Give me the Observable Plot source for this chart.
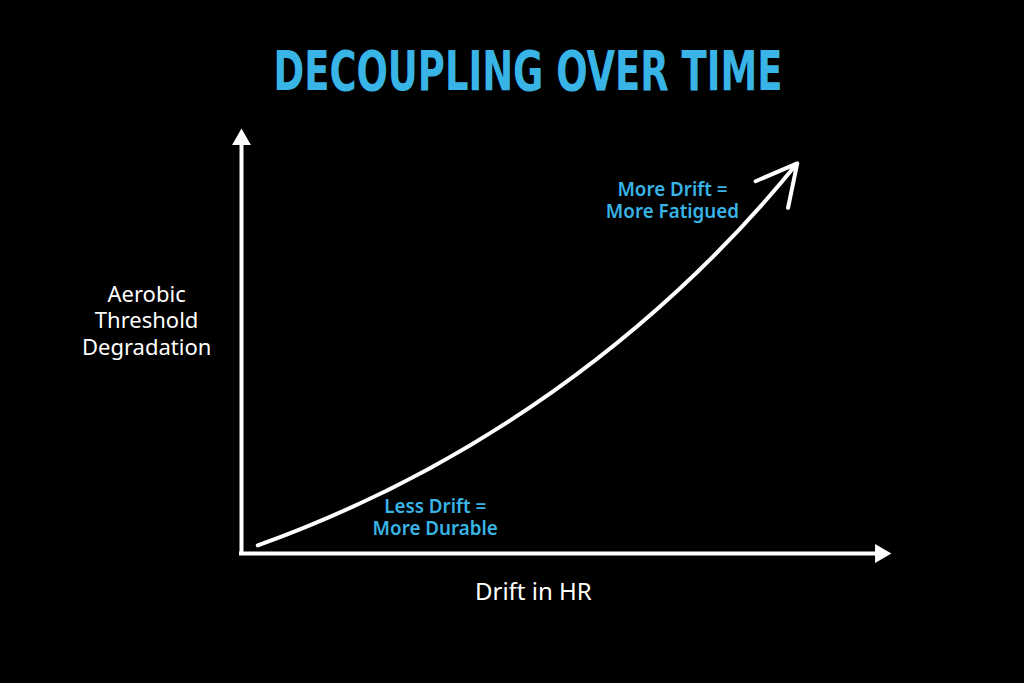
<!DOCTYPE html>
<html>
<head>
<meta charset="utf-8">
<script src="https://cdn.jsdelivr.net/npm/d3@7"></script>
<script src="https://cdn.jsdelivr.net/npm/@observablehq/plot@0.6"></script>
<style>
  html, body { margin: 0; padding: 0; background: #000; }
  #wrap { width: 1024px; height: 683px; overflow: hidden; background: #000; }
  #title {
    height: 115px; margin: 0; text-align: center; position: relative;
  }
  #title span {
    position: absolute; left: 528px; top: 71px;
    font-family: "DejaVu Sans Condensed", "DejaVu Sans", sans-serif;
    font-stretch: condensed;
    font-weight: bold; font-size: 56px; color: #38b4e6;
    line-height: 1; white-space: nowrap; transform-origin: 0 0;
  }
  #chart svg { display: block; }
</style>
</head>
<body>
<div id="wrap">
  <div id="title"><span id="t">DECOUPLING OVER TIME</span></div>
  <div id="chart"></div>
</div>
<script>
// Axis extents (abstract units 0–100)
const axisX = [{x1: 0, x2: 97.5, y: 0}];
const axisY = [{y1: 0, y2: 97, x: 0}];
const axisTipX = [{x: 100, y: 0}];
const axisTipY = [{x: 0, y: 100}];

// Curve: start and end of the bent arrow
const curveStart = [2.5, 1.9];
const curveEnd = [85.5, 91.8];

// Labels
const annoText = ["Less Drift =\nMore Durable", "More Drift =\nMore Fatigued"];
const annoX = [29.8, 66.3];
const annoY = [8.7, 83.3];
const yLabelText = ["Aerobic\nThreshold\nDegradation"];
const yLabelX = [-14.6];
const yLabelY = [55.0];
const xLabelText = ["Drift in HR"];
const xLabelX = [44.9];
const xLabelY = [-9.2];

const annos = annoText.map((t, i) => ({t, x: annoX[i], y: annoY[i]}));
const yLabels = yLabelText.map((t, i) => ({t, x: yLabelX[i], y: yLabelY[i]}));
const xLabels = xLabelText.map((t, i) => ({t, x: xLabelX[i], y: xLabelY[i]}));
const curve = [{x1: curveStart[0], y1: curveStart[1], x2: curveEnd[0], y2: curveEnd[1]}];

const W = 1024, H = 568;
const chart = Plot.plot({
  width: W, height: H,
  marginLeft: 241, marginRight: 133, marginTop: 13, marginBottom: 130,
  style: {background: "#000", color: "#fff", overflow: "visible"},
  x: {domain: [0, 100], axis: null},
  y: {domain: [0, 100], axis: null},
  marks: [
    Plot.ruleY(axisX, {y: "y", x1: "x1", x2: "x2", stroke: "#fff", strokeWidth: 4, strokeLinecap: "square"}),
    Plot.ruleX(axisY, {x: "x", y1: "y1", y2: "y2", stroke: "#fff", strokeWidth: 4, strokeLinecap: "square"}),
    Plot.dot(axisTipX, {x: "x", y: "y", symbol: "triangle", r: 7, fill: "#fff", stroke: null, rotate: 90, dx: -11}),
    Plot.dot(axisTipY, {x: "x", y: "y", symbol: "triangle", r: 7, fill: "#fff", stroke: null, dy: 11}),
    Plot.arrow(curve, {x1: "x1", y1: "y1", x2: "x2", y2: "y2", bend: -15.5, stroke: "#fff", strokeWidth: 4, headLength: 17, headAngle: 55, strokeLinecap: "round"}),
    Plot.text(annos, {x: "x", y: "y", text: "t", fill: "#38b4e6", fontSize: 18.8, fontWeight: 600, lineHeight: 1.17, fontFamily: "'Noto Sans', sans-serif"}),
    Plot.text(yLabels, {x: "x", y: "y", text: "t", fill: "#fff", fontSize: 22, fontWeight: 400, lineHeight: 1.2, fontFamily: "'Noto Sans', sans-serif"}),
    Plot.text(xLabels, {x: "x", y: "y", text: "t", fill: "#fff", fontSize: 24, fontWeight: 400, fontFamily: "'Noto Sans', sans-serif"})
  ]
});
document.getElementById("chart").appendChild(chart);

// Fit the title to the reference width (condensed look)
const t = document.getElementById("t");
const w = t.getBoundingClientRect().width;
const target = 509;
const sx = target / w;
t.style.transform = `scaleX(${sx}) translate(-50%, -50%)`;
</script>
</body>
</html>
